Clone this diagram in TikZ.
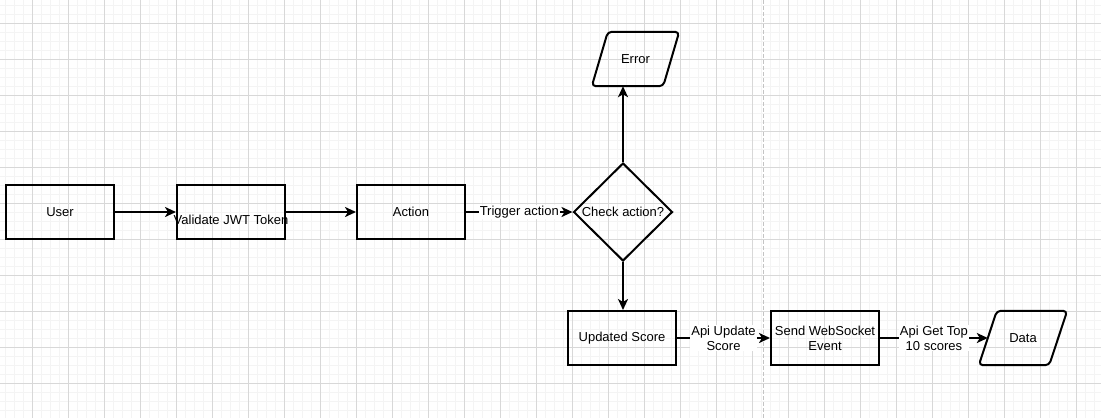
\documentclass[tikz,border=0pt]{standalone}
\usepackage{fontspec}
\setmainfont{Liberation Sans}
\usetikzlibrary{shapes.geometric,arrows.meta,calc}
\definecolor{gridminor}{HTML}{F4F4F4}
\definecolor{gridmajor}{HTML}{D8D8D8}
\definecolor{sepline}{HTML}{C4C4C4}
\begin{document}
\begin{tikzpicture}[x=1bp,y=-1bp,
  every node/.style={font=\fontsize{13bp}{15bp}\selectfont},
  box/.style={draw, line width=2bp, minimum width=108bp, minimum height=54bp, inner sep=0pt, align=center},
  dia/.style={draw, diamond, line width=2bp, minimum width=99bp, minimum height=98bp, inner sep=0pt},
  paratext/.style={minimum width=87bp, minimum height=54bp, inner sep=0pt},
  parashape/.style={line width=2bp, rounded corners=4bp, line join=round},
  conn/.style={line width=2bp, -{Stealth[length=11bp,width=10bp,inset=3bp]}},
  lab/.style={fill=white, inner sep=1bp, align=center},
  gminor/.style={draw=gridminor, line width=1bp},
  gmajor/.style={draw=gridmajor, line width=1bp}
]
\useasboundingbox (0,0) rectangle (1101,418);
\fill[white] (0,0) rectangle (1101,418);
% grid
\foreach \x in {5.5,14.5,...,1101} \draw[gminor] (\x,0) -- (\x,418);
\foreach \y in {5.5,14.5,...,418} \draw[gminor] (0,\y) -- (1101,\y);
\foreach \x in {32.5,68.5,...,1101} \draw[gmajor] (\x,0) -- (\x,418);
\foreach \y in {23.5,59.5,...,418} \draw[gmajor] (0,\y) -- (1101,\y);
% page separator
\draw[sepline, line width=1bp, dash pattern=on 4bp off 2bp] (763.5,0) -- (763.5,418);

% nodes
\node[box] (user) at (60,212) {User};
\node[box, label={[yshift=-8bp]center:Validate JWT Token}] (jwt) at (231,212) {};
\node[box] (act) at (411,212) {Action};
\node[dia, label={center:Check action?}] (chk) at (623,212) {};
\node[paratext] (err) at (635.5,59) {Error};
\draw[parashape] ($(err.north west)+(16,0)$) -- (err.north east) -- ($(err.south east)+(-16,0)$) -- (err.south west) -- cycle;
\node[box] (upd) at (622,338) {Updated Score};
\node[box] (ws) at (825,338) {Send WebSocket\\Event};
\node[paratext, minimum width=88bp] (data) at (1023,338) {Data};
\draw[parashape] ($(data.north west)+(18,0)$) -- (data.north east) -- ($(data.south east)+(-18,0)$) -- (data.south west) -- cycle;

% connectors
\draw[conn] (user) -- (jwt);
\draw[conn] (jwt) -- (act);
\draw[conn] (act) -- node[lab]{Trigger action} (chk);
\draw[conn] (chk.north) -- (chk.north |- err.south);
\draw[conn] (chk.south) -- (chk.south |- upd.north);
\draw[conn] (upd) -- node[lab]{Api Update\\Score} (ws);
\draw[conn] (ws) -- node[lab]{Api Get Top\\10 scores} ($(data.west)+(9,0)$);
\end{tikzpicture}
\end{document}
